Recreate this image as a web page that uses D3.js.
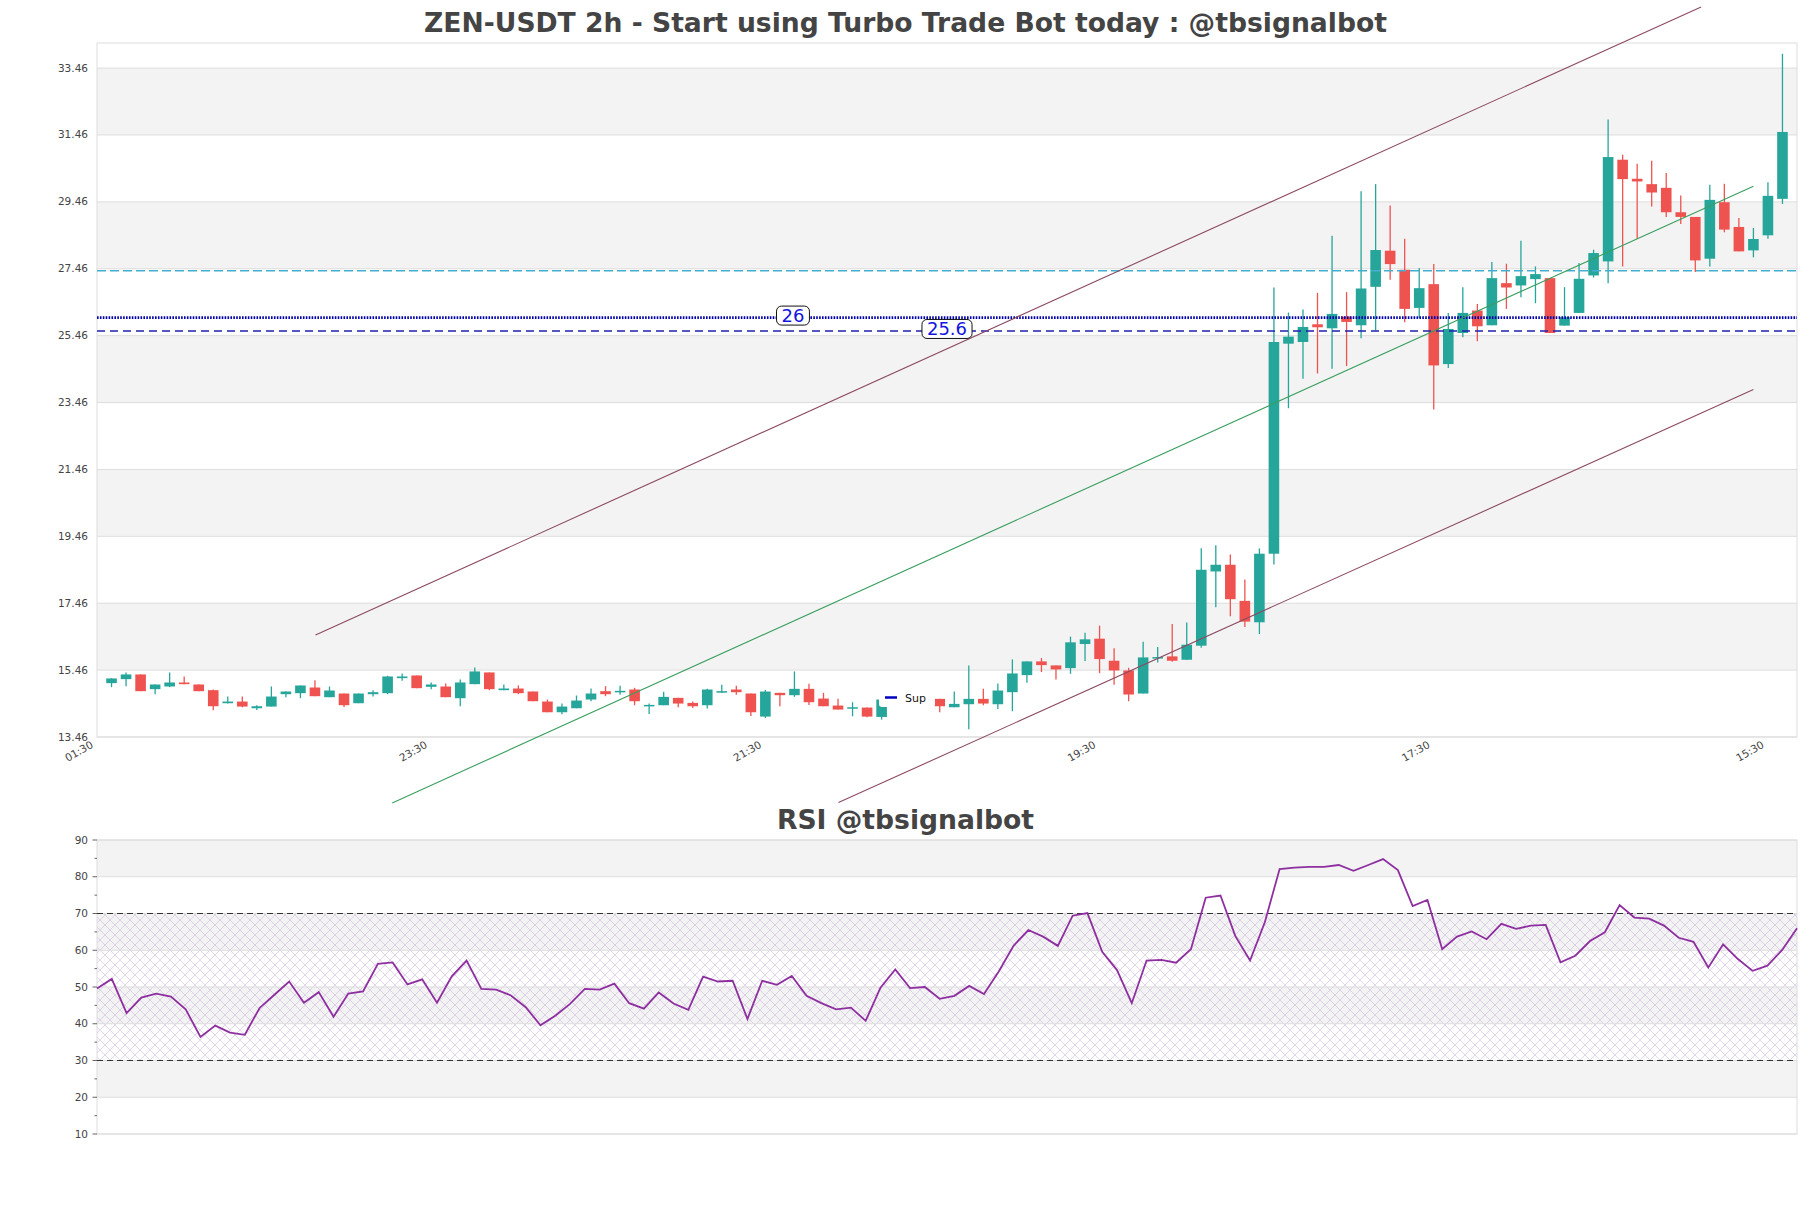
<!DOCTYPE html>
<html><head><meta charset="utf-8">
<script src="https://cdn.jsdelivr.net/npm/d3@7"></script>
<style>html,body{margin:0;padding:0;background:#fff}svg{display:block}</style>
</head><body>
<script>
// ---------- DATA ----------
const openP = [15.07,15.19,15.33,14.89,14.97,15.09,15.03,14.86,14.47,14.52,14.32,14.37,14.74,14.77,14.94,14.65,14.76,14.47,14.74,14.77,
15.22,15.30,14.96,14.97,14.62,15.04,15.39,14.86,14.91,14.82,14.52,14.20,14.32,14.58,14.83,14.82,14.88,14.41,14.41,14.63,
14.48,14.41,14.82,14.88,14.76,14.07,14.78,14.71,14.90,14.61,14.40,14.34,14.34,14.06,14.58,14.75,14.55,14.60,14.35,14.44,
14.60,14.44,14.80,15.31,15.72,15.60,15.52,16.24,16.40,15.74,15.45,14.76,15.83,15.87,15.77,16.19,18.41,18.61,17.53,16.89,
18.94,25.22,25.27,25.80,25.68,26.03,25.77,26.92,28.00,27.43,26.29,27.00,24.61,25.54,26.21,25.77,27.03,26.96,27.15,27.18,
25.76,26.14,27.26,27.68,30.72,30.15,29.99,29.88,29.15,29.01,27.76,29.45,28.71,28.01,28.46,29.55];
const highP = [15.22,15.39,15.33,15.03,15.39,15.27,15.03,14.88,14.67,14.67,14.41,14.97,14.83,15.00,15.16,14.97,14.76,14.76,14.86,15.29,
15.36,15.30,15.09,15.06,15.18,15.54,15.39,15.03,15.00,14.82,14.58,14.46,14.70,14.91,14.98,14.99,14.93,14.46,14.81,14.63,
14.52,14.90,15.02,14.99,14.76,14.87,14.78,15.42,15.05,14.78,14.60,14.50,14.34,14.62,14.80,14.78,14.66,14.60,14.82,15.60,
14.90,15.06,15.78,15.72,15.82,15.60,16.46,16.58,16.79,16.11,15.53,16.31,16.15,16.84,16.88,19.10,19.19,18.92,18.17,19.10,
26.90,26.15,26.24,26.74,28.45,26.76,29.78,29.99,29.35,28.36,27.48,27.60,26.14,26.91,26.41,27.66,27.61,28.30,27.53,27.18,
26.91,27.63,28.03,31.92,30.87,30.60,30.69,30.32,29.65,29.01,29.97,30.00,28.98,28.68,30.05,33.89];
const lowP = [14.95,14.98,14.83,14.74,14.95,15.04,14.83,14.26,14.46,14.35,14.27,14.37,14.65,14.62,14.68,14.65,14.36,14.47,14.67,14.74,
15.14,14.92,14.89,14.65,14.38,15.04,14.86,14.86,14.74,14.53,14.20,14.14,14.32,14.53,14.68,14.72,14.41,14.15,14.41,14.35,
14.33,14.31,14.78,14.72,14.09,14.03,14.38,14.66,14.42,14.38,14.28,14.08,14.05,13.98,14.52,14.50,14.48,14.20,14.35,13.69,
14.41,14.30,14.23,15.08,15.40,15.18,15.35,15.73,15.37,15.02,14.53,14.76,15.69,15.71,15.77,16.13,17.34,17.07,16.75,16.54,
18.62,23.29,24.17,24.33,24.47,24.55,25.38,25.62,27.13,25.86,25.99,23.25,24.49,25.41,25.29,25.77,26.26,26.61,26.43,25.54,
25.76,26.14,27.20,27.03,27.53,28.36,29.32,29.01,28.80,27.36,27.53,28.55,27.98,27.80,28.36,29.40];
const closeP = [15.21,15.33,14.83,15.03,15.09,15.04,14.83,14.38,14.52,14.37,14.38,14.67,14.82,15.00,14.68,14.85,14.41,14.76,14.80,15.27,
15.27,14.92,15.03,14.65,15.09,15.42,14.89,14.91,14.77,14.53,14.20,14.37,14.55,14.76,14.74,14.84,14.53,14.42,14.66,14.46,
14.38,14.88,14.83,14.80,14.20,14.82,14.71,14.90,14.50,14.38,14.28,14.35,14.07,14.58,14.75,14.55,14.60,14.38,14.45,14.60,
14.46,14.85,15.36,15.72,15.61,15.48,16.29,16.38,15.79,15.45,14.73,15.84,15.85,15.74,16.22,18.46,18.61,17.58,16.91,18.94,
25.27,25.43,25.72,25.71,26.11,25.87,26.87,28.02,27.60,26.26,26.88,24.57,25.66,26.14,25.74,27.18,26.90,27.24,27.30,25.54,
26.01,27.16,27.93,30.80,30.14,30.07,29.74,29.15,29.01,27.71,29.52,28.63,27.98,28.35,29.64,31.55];
const rsiValues = [49.6,52.2,42.9,47.1,48.2,47.4,43.9,36.4,39.5,37.6,37.0,44.3,47.9,51.5,45.7,48.6,41.9,48.2,48.8,56.3,
56.7,50.7,52.1,45.7,52.9,57.2,49.5,49.3,47.7,44.5,39.6,42.2,45.4,49.5,49.3,50.9,45.6,44.1,48.5,45.5,
43.8,52.8,51.5,51.7,41.3,51.7,50.6,53.0,47.6,45.6,43.9,44.4,40.8,49.8,54.8,49.7,50.0,46.8,47.6,50.3,
48.1,54.2,61.2,65.5,63.7,61.2,69.4,70.1,59.6,54.6,45.6,57.2,57.4,56.6,60.3,74.3,74.9,63.9,57.2,67.6,
82.1,82.5,82.7,82.7,83.2,81.6,83.2,84.8,81.8,72.0,73.7,60.3,63.7,65.1,63.0,67.2,65.8,66.7,66.9,56.7,
58.5,62.5,64.9,72.3,68.9,68.6,66.7,63.4,62.3,55.3,61.6,57.6,54.4,55.8,60.1,66.0];
const yTickValues = [13.46,15.46,17.46,19.46,21.46,23.46,25.46,27.46,29.46,31.46,33.46];
const xTickIndex = [-1,22,45,68,91,114];
const xTickLabels = ["01:30","23:30","21:30","19:30","17:30","15:30"];
const levelValues = [27.4, 26, 25.6];
const levelLabelText = ["", "26", "25.6"];
const levelLabelIndex = [null, 46.9, 57.5];
// trend lines: [startIndex, startPrice, endIndex, endPrice]
const upperChannel = [14.04, 16.51, 109.4, 35.29];
const midChannel = [19.32, 11.49, 113.0, 29.93];
const lowerChannel = [50.03, 11.50, 113.0, 23.85];
const rsiTicks = [10,20,30,40,50,60,70,80,90];
const rsiMinorTicks = [15,25,35,45,55,65,75,85];
const legendLabel = "Sup";

// ---------- DRAW ----------
const W = 1811, H = 1208;
const FONT = "DejaVu Sans, sans-serif";
const svg = d3.select("body").append("svg").attr("width", W).attr("height", H)
  .style("font-family", FONT);
svg.append("rect").attr("width", W).attr("height", H).attr("fill", "#fff");

const L = 97, R = 1797, T = 43, B = 737;
const x = d3.scaleLinear().domain([-1, 116]).range([L, R]);
const y = d3.scaleLinear().domain([13.46, 34.21]).range([B, T]);

const defs = svg.append("defs");
const pat = defs.append("pattern").attr("id", "hatch").attr("patternUnits", "userSpaceOnUse")
  .attr("width", 10).attr("height", 10);
pat.append("path").attr("d", "M0,0L10,10M10,0L0,10M-1,9L1,11M9,-1L11,1M-1,1L1,-1M9,11L11,9")
  .attr("stroke", "#c6afd6").attr("stroke-width", 0.6).attr("fill", "none");

// title
svg.append("text").attr("x", W/2).attr("y", 32).attr("text-anchor", "middle")
  .attr("font-size", 26.6).attr("font-weight", "bold").attr("fill", "#444")
  .text("ZEN-USDT 2h - Start using Turbo Trade Bot today : @tbsignalbot");

const main = svg.append("g");
// bands
for (let k = 1; k < yTickValues.length - 1; k += 2) {
  main.append("rect").attr("x", L).attr("width", R - L)
    .attr("y", y(yTickValues[k+1])).attr("height", y(yTickValues[k]) - y(yTickValues[k+1]))
    .attr("fill", "#f3f3f3");
}
main.selectAll(".hg").data(yTickValues).join("line")
  .attr("x1", L).attr("x2", R).attr("y1", d => y(d)).attr("y2", d => y(d))
  .attr("stroke", "#dddddd").attr("stroke-width", 1);
main.append("rect").attr("x", L).attr("y", T).attr("width", R - L).attr("height", B - T)
  .attr("fill", "none").attr("stroke", "#dddddd").attr("stroke-width", 1);

// y labels
main.selectAll(".yl").data(yTickValues).join("text")
  .attr("x", 88).attr("y", d => y(d) + 3.5).attr("text-anchor", "end")
  .attr("font-size", 10.5).attr("fill", "#444").text(d => d.toFixed(2));

// x labels
main.selectAll(".xl").data(xTickIndex).join("text")
  .attr("transform", d => `translate(${x(d) - 7},${B + 3}) rotate(-30)`)
  .attr("text-anchor", "end").attr("dy", "0.75em")
  .attr("font-size", 10.5).attr("fill", "#444")
  .text((d, i) => xTickLabels[i]);

// candles
const step = x(1) - x(0);
const bw = step * 0.73;
const idx = d3.range(openP.length);
const col = i => closeP[i] >= openP[i] ? "#26a69a" : "#ef5350";
const cg = main.append("g");
cg.selectAll(".wick").data(idx).join("line")
  .attr("x1", i => x(i)).attr("x2", i => x(i))
  .attr("y1", i => y(highP[i])).attr("y2", i => y(lowP[i]))
  .attr("stroke", col).attr("stroke-width", 1.3);
cg.selectAll(".body").data(idx).join("rect")
  .attr("x", i => x(i) - bw/2).attr("width", bw)
  .attr("y", i => y(Math.max(openP[i], closeP[i])))
  .attr("height", i => Math.max(1.5, Math.abs(y(openP[i]) - y(closeP[i]))))
  .attr("fill", col);

// horizontal levels
const levelStyle = [
  {stroke: "#45aed0", w: 1.3, dash: "9,4"},
  {stroke: "#0000a8", w: 2.6, dash: "1.6,1.3"},
  {stroke: "#2020b0", w: 1.5, dash: "8,5"}
];
levelValues.forEach((v, i) => {
  main.append("line").attr("x1", L).attr("x2", R).attr("y1", y(v)).attr("y2", y(v))
    .attr("stroke", levelStyle[i].stroke).attr("stroke-width", levelStyle[i].w)
    .attr("stroke-dasharray", levelStyle[i].dash);
});

// trend lines
const tl = (a, c) => main.append("line")
  .attr("x1", x(a[0])).attr("y1", y(a[1])).attr("x2", x(a[2])).attr("y2", y(a[3]))
  .attr("stroke", c).attr("stroke-width", 1.1);
tl(upperChannel, "#8c4a62");
tl(midChannel, "#3a9e5f");
tl(lowerChannel, "#8c4a62");

// level labels
levelValues.forEach((v, i) => {
  if (!levelLabelText[i]) return;
  const g = main.append("g");
  const cy = y(v) - 2;
  const t = g.append("text").attr("x", x(levelLabelIndex[i])).attr("y", cy + 6.5)
    .attr("text-anchor", "middle").attr("font-size", 18).attr("fill", "#1515e0")
    .text(levelLabelText[i]);
  const bb = t.node().getBBox();
  g.insert("rect", "text").attr("x", bb.x - 5).attr("y", cy - 9.5).attr("width", bb.width + 10)
    .attr("height", 19).attr("rx", 5).attr("fill", "#fff").attr("stroke", "#111").attr("stroke-width", 1);
});

// legend
const lg = main.append("g");
lg.append("rect").attr("x", 879).attr("y", 685).attr("width", 56).attr("height", 22).attr("rx", 3)
  .attr("fill", "#fff");
lg.append("line").attr("x1", 885).attr("x2", 897).attr("y1", 697.5).attr("y2", 697.5)
  .attr("stroke", "#0000c0").attr("stroke-width", 2.5);
lg.append("text").attr("x", 905).attr("y", 701.5).attr("font-size", 11).attr("fill", "#111").text(legendLabel);

// ---------- RSI ----------
const RT = 840, RB = 1134;
const x2 = d3.scaleLinear().domain([0, rsiValues.length - 1]).range([L, R]);
const y2 = d3.scaleLinear().domain([10, 90]).range([RB, RT]);
svg.append("text").attr("x", W/2).attr("y", 829).attr("text-anchor", "middle")
  .attr("font-size", 26.6).attr("font-weight", "bold").attr("fill", "#444").text("RSI @tbsignalbot");
const rg = svg.append("g");
for (let k = 1; k < rsiTicks.length; k += 2) {
  rg.append("rect").attr("x", L).attr("width", R - L)
    .attr("y", y2(rsiTicks[k+1])).attr("height", y2(rsiTicks[k]) - y2(rsiTicks[k+1]))
    .attr("fill", "#f3f3f3");
}
rg.append("rect").attr("x", L).attr("width", R - L).attr("y", y2(70)).attr("height", y2(30) - y2(70))
  .attr("fill", "url(#hatch)").attr("opacity", 0.85);
rg.selectAll(".rgl").data(rsiTicks).join("line")
  .attr("x1", L).attr("x2", R).attr("y1", d => y2(d)).attr("y2", d => y2(d))
  .attr("stroke", "#dddddd");
rg.append("rect").attr("x", L).attr("y", RT).attr("width", R - L).attr("height", RB - RT)
  .attr("fill", "none").attr("stroke", "#dddddd");
[70, 30].forEach(v => rg.append("line").attr("x1", L).attr("x2", R).attr("y1", y2(v)).attr("y2", y2(v))
  .attr("stroke", "#333").attr("stroke-width", 1.2).attr("stroke-dasharray", "6,4"));
rg.selectAll(".rtk").data(rsiTicks).join("line")
  .attr("x1", L - 4.5).attr("x2", L).attr("y1", d => y2(d)).attr("y2", d => y2(d)).attr("stroke", "#666");
rg.selectAll(".rmt").data(rsiMinorTicks).join("line")
  .attr("x1", L - 2.5).attr("x2", L).attr("y1", d => y2(d)).attr("y2", d => y2(d)).attr("stroke", "#666");
rg.selectAll(".rl").data(rsiTicks).join("text")
  .attr("x", 88).attr("y", d => y2(d) + 3.5).attr("text-anchor", "end")
  .attr("font-size", 10.5).attr("fill", "#444").text(d => d);
rg.append("path").datum(rsiValues)
  .attr("d", d3.line().x((d, i) => x2(i)).y(d => y2(d)))
  .attr("fill", "none").attr("stroke", "#8e2fa0").attr("stroke-width", 1.8);
</script>
</body></html>
